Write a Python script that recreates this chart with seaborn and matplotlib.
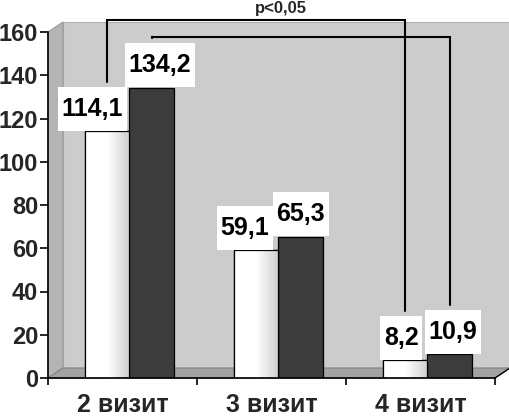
import numpy as np
import pandas as pd
import seaborn as sns
import matplotlib
matplotlib.use("Agg")
import matplotlib.pyplot as plt
from matplotlib.path import Path
from matplotlib.patches import Polygon
from matplotlib.colors import LinearSegmentedColormap
from matplotlib.transforms import ScaledTranslation

#%% data
visits = ["2 визит", "3 визит", "4 визит"]
series_a = [114.1, 59.1, 8.2]
series_b = [134.2, 65.3, 10.9]
labels_a = ["114,1", "59,1", "8,2"]
labels_b = ["134,2", "65,3", "10,9"]
y_ticks = [0, 20, 40, 60, 80, 100, 120, 140, 160]
p_label = "p<0,05"

df = pd.DataFrame({
    "visit": visits * 2,
    "value": series_a + series_b,
    "group": ["a"] * 3 + ["b"] * 3,
})

#%% style
sns.set_theme(style="white")
plt.rcParams['font.family'] = ['Liberation Sans', 'DejaVu Sans']
plt.rcParams['font.weight'] = 'bold'

fig = plt.figure(figsize=(5.1, 4.18), dpi=100)
ax = fig.add_axes([48 / 510, 40 / 418, 447 / 510, 346 / 418])
ax.set_facecolor("none")

sns.barplot(data=df, x="visit", y="value", hue="group",
            palette=["#ffffff", "#3c3c3c"], width=0.6,
            edgecolor="black", linewidth=0.9, legend=False,
            ax=ax, zorder=3)

ax.set_xlim(-0.5, 2.5)
ax.set_ylim(0, 160)

# 3D-ish back wall, side wall and floor (axes coords)
dx, dy = 15 / 447, 10 / 346
wall = Polygon([(dx, dy), (1 + dx, dy), (1 + dx, 1 + dy), (dx, 1 + dy)],
               closed=True, transform=ax.transAxes, facecolor="#cccccc",
               edgecolor="#b0b0b0", lw=0.8, clip_on=False, zorder=0.5)
side = Polygon([(0, 0), (dx, dy), (dx, 1 + dy), (0, 1)], closed=True,
               transform=ax.transAxes, facecolor="#b4b4b4",
               edgecolor="#999999", lw=0.8, clip_on=False, zorder=0.6)
floor = Polygon([(0, 0), (1, 0), (1 + dx, dy), (dx, dy)], closed=True,
                transform=ax.transAxes, facecolor="#a3a3a3",
                edgecolor="#808080", lw=0.8, clip_on=False, zorder=0.7)
for p in (wall, side, floor):
    ax.add_patch(p)
ax.plot([1, 1 + dx], [0, dy], transform=ax.transAxes, color="black",
        lw=1, clip_on=False, zorder=2)

# depth shift of the bars
off = ScaledTranslation(7 / 100, 0, fig.dpi_scale_trans)
shade = LinearSegmentedColormap.from_list("cyl", ["#ffffff", "#ffffff", "#cfcfcf"])
grad = np.linspace(0, 1, 64).reshape(1, -1)
for i, cont in enumerate(ax.containers):
    for bar in cont:
        bar.set_transform(ax.transData + off)
        if i == 0:
            im = ax.imshow(grad, cmap=shade, aspect="auto", zorder=3.1,
                           extent=[bar.get_x(), bar.get_x() + bar.get_width(),
                                   0, bar.get_height()])
            im.set_transform(ax.transData + off)
            im.set_clip_path(bar)
            ax.add_patch(plt.Rectangle((bar.get_x(), 0), bar.get_width(),
                                       bar.get_height(), fill=False,
                                       edgecolor="black", lw=0.9, zorder=3.2,
                                       transform=ax.transData + off))
ax.set_xlim(-0.5, 2.5)
ax.set_ylim(0, 160)


def tall_box(x0, y0, width, height, mutation_size):
    px = 0.15 * mutation_size
    py = 0.40 * mutation_size
    x0, y0 = x0 - px, y0 - py
    x1, y1 = x0 + width + 2 * px, y0 + height + 2 * py
    return Path([(x0, y0), (x1, y0), (x1, y1), (x0, y1), (x0, y0)], closed=True)


# value labels, nudged sideways so neighbouring boxes do not overlap
nudge = [[-15, -11, -4], [8, 0, 3]]
box_h = 23
centers = []
for i, (cont, labs) in enumerate(zip(ax.containers, [labels_a, labels_b])):
    row = []
    for j, (bar, lab) in enumerate(zip(cont, labs)):
        xc = bar.get_x() + bar.get_width() / 2
        row.append(xc)
        ax.annotate(lab, (xc, bar.get_height()),
                    xytext=(7 * 0.72 + nudge[i][j] * 0.72, 7.5),
                    textcoords="offset points", ha="center", va="bottom",
                    fontsize=18, fontweight="bold", color="black", zorder=6,
                    annotation_clip=False,
                    bbox=dict(boxstyle=tall_box, facecolor="white",
                              edgecolor="none"))
    centers.append(row)

# significance brackets
shift = 7 / 149
levels = [165.5, 157.5]
for i, (vals, lvl) in enumerate(zip([series_a, series_b], levels)):
    x0 = centers[i][0] + shift
    x1 = centers[i][2] + shift
    ax.plot([x0, x0, x1, x1], [vals[0] + box_h, lvl, lvl, vals[2] + box_h],
            color="black", lw=1.5, clip_on=False, zorder=4,
            solid_joinstyle="miter")
ax.text(1.064, 171, p_label, ha="center", va="center", fontsize=12,
        fontweight="bold", clip_on=False)

# axes
sns.despine(ax=ax)
for s in ("left", "bottom"):
    ax.spines[s].set_color("black")
    ax.spines[s].set_linewidth(1.2)
    ax.spines[s].set_zorder(5)
ax.set_yticks(y_ticks)
ax.set_yticklabels([str(t) for t in y_ticks], fontsize=17, fontweight="bold")
ax.tick_params(axis="y", direction="out", length=6, width=1.2, pad=1,
               left=True, color="black")
ax.set_xticks([-0.5, 0.5, 1.5, 2.5])
ax.set_xticklabels([])
ax.set_xticks([0, 1, 2], visits, minor=True)
ax.tick_params(axis="x", which="major", direction="out", length=5,
               width=1.2, bottom=True, color="black")
ax.tick_params(axis="x", which="minor", length=0, pad=11, labelsize=18)
for t in ax.get_xticklabels(minor=True):
    t.set_fontweight("bold")
ax.set_xlabel("")
ax.set_ylabel("")

fig.savefig("out.png", dpi=100)
